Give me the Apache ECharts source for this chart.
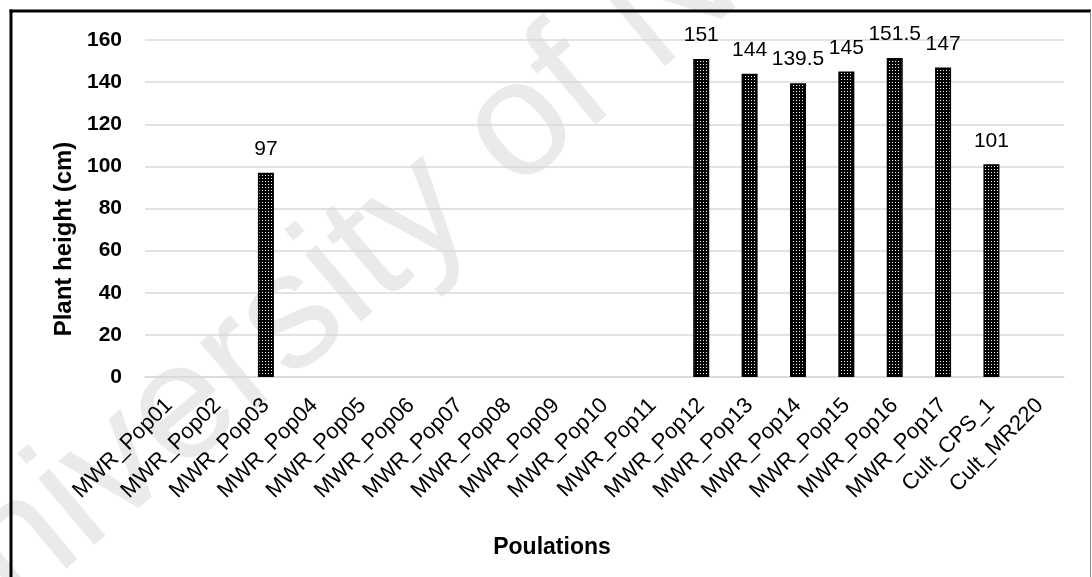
<!DOCTYPE html>
<html>
<head>
<meta charset="utf-8">
<script src="https://cdn.jsdelivr.net/npm/echarts@6/dist/echarts.min.js"></script>
<style>
  html, body { margin: 0; padding: 0; background: #ffffff; }
  #chart { width: 1092px; height: 577px; }
</style>
</head>
<body>
<div id="chart"></div>
<script>
// Plant height per population
const populations = [
  'MWR_Pop01', 'MWR_Pop02', 'MWR_Pop03', 'MWR_Pop04', 'MWR_Pop05',
  'MWR_Pop06', 'MWR_Pop07', 'MWR_Pop08', 'MWR_Pop09', 'MWR_Pop10',
  'MWR_Pop11', 'MWR_Pop12', 'MWR_Pop13', 'MWR_Pop14', 'MWR_Pop15',
  'MWR_Pop16', 'MWR_Pop17', 'Cult_CPS_1', 'Cult_MR220'
];
const plantHeight = [
  null, null, 97, null, null,
  null, null, null, null, null,
  null, 151, 144, 139.5, 145,
  151.5, 147, 101, null
];
const yTicks = { min: 0, max: 160, step: 20 };

const xTitle = 'Poulations';
const yTitle = 'Plant height (cm)';
const watermark = 'University of N';

const FONT = "'Liberation Sans', Arial, sans-serif";

// dotted fill for the bars: black cells with a white dot
function dotPattern() {
  const c = document.createElement('canvas');
  c.width = 3; c.height = 3;
  const g = c.getContext('2d');
  g.fillStyle = '#000';
  g.fillRect(0, 0, 3, 3);
  g.fillStyle = '#ffffff';
  g.fillRect(1, 1, 1, 1);
  return c;
}

const chart = echarts.init(document.getElementById('chart'), null, { renderer: 'canvas' });

chart.setOption({
  backgroundColor: '#ffffff',
  animation: false,
  grid: { left: 145, right: 28, top: 40, bottom: 200, containLabel: false },
  graphic: [
    {
      type: 'text', z: -10, silent: true,
      x: -52, y: 716, rotation: 40 * Math.PI / 180,
      style: { text: watermark, font: '165px ' + FONT, fill: '#eaeaea',
               textAlign: 'left', textVerticalAlign: 'bottom' }
    },
    { type: 'line', z: 10, shape: { x1: 11, y1: 9.5, x2: 11, y2: 577 },
      style: { stroke: '#000', lineWidth: 3 } },
    { type: 'line', z: 10, shape: { x1: 9.5, y1: 11, x2: 1091, y2: 11 },
      style: { stroke: '#000', lineWidth: 3 } },
    { type: 'line', z: 10, shape: { x1: 1090.5, y1: 11, x2: 1090.5, y2: 577 },
      style: { stroke: '#8c8c8c', lineWidth: 1 } },
    { type: 'text', x: 64, y: 239, rotation: Math.PI / 2,
      style: { text: yTitle, font: 'bold 24px ' + FONT, fill: '#000',
               textAlign: 'center', textVerticalAlign: 'middle' } },
    { type: 'text', x: 552, y: 548,
      style: { text: xTitle, font: 'bold 23px ' + FONT, fill: '#000',
               textAlign: 'center', textVerticalAlign: 'middle' } }
  ],
  xAxis: {
    type: 'category',
    data: populations,
    axisLine: { lineStyle: { color: '#d9d9d9', width: 1.5 } },
    axisTick: { show: false },
    axisLabel: {
      interval: 0, rotate: 45, margin: 25,
      color: '#000', fontFamily: FONT, fontSize: 22
    }
  },
  yAxis: {
    type: 'value',
    min: yTicks.min, max: yTicks.max, interval: yTicks.step,
    axisLine: { show: false },
    axisTick: { show: false },
    splitLine: { lineStyle: { color: '#d9d9d9', width: 1.5 } },
    axisLabel: {
      margin: 23, color: '#000', fontFamily: FONT, fontSize: 21, fontWeight: 'bold'
    }
  },
  series: [{
    type: 'bar',
    data: plantHeight,
    barWidth: 16,
    itemStyle: {
      color: { image: dotPattern(), repeat: 'repeat' },
      borderColor: '#000', borderWidth: 1.5
    },
    label: {
      show: true, position: 'top', distance: 13,
      color: '#000', fontFamily: FONT, fontSize: 21, lineHeight: 21
    }
  }]
});
</script>
</body>
</html>
